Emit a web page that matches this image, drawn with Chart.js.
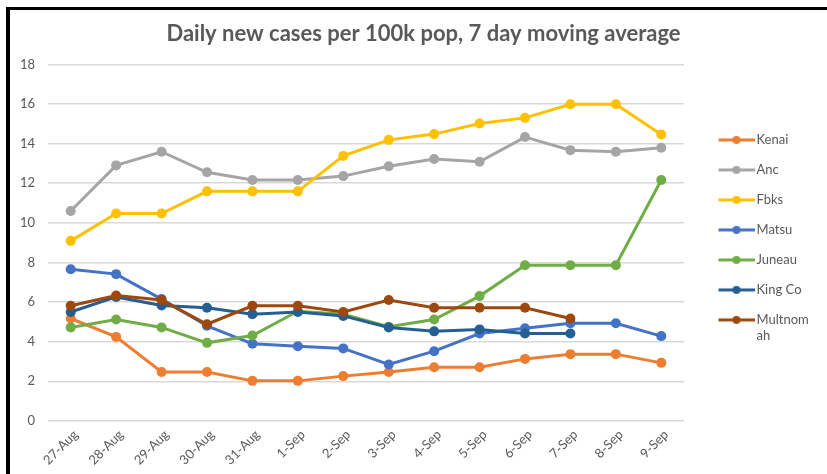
<!DOCTYPE html>
<html>
<head>
<meta charset="utf-8">
<script src="https://cdn.jsdelivr.net/npm/chart.js@4"></script>
<style>
  body { margin: 0; background: #fff; }
  #wrap { position: relative; width: 827px; height: 474px; }
  #frame {
    position: absolute; left: 6px; top: 7px; right: 0; bottom: 0;
    border-top: 3px solid #000; border-left: 4px solid #000;
    pointer-events: none;
  }
</style>
</head>
<body>
<div id="wrap">
  <canvas id="chart"></canvas>
  <div id="frame"></div>
</div>
<script>
const days = ["27-Aug", "28-Aug", "29-Aug", "30-Aug", "31-Aug", "1-Sep", "2-Sep",
  "3-Sep", "4-Sep", "5-Sep", "6-Sep", "7-Sep", "8-Sep", "9-Sep"];

const kenai = [5.17, 4.24, 2.47, 2.47, 2.02, 2.02, 2.26, 2.47, 2.71, 2.71, 3.13, 3.37, 3.37, 2.93];
const anc = [10.6, 12.9, 13.59, 12.55, 12.16, 12.16, 12.36, 12.86, 13.22, 13.08, 14.33, 13.67, 13.59, 13.79];
const fbks = [9.09, 10.47, 10.47, 11.59, 11.59, 11.59, 13.38, 14.19, 14.48, 15.02, 15.3, 15.99, 15.99, 14.46];
const matsu = [7.66, 7.41, 6.15, 4.8, 3.89, 3.77, 3.66, 2.85, 3.52, 4.41, 4.68, 4.93, 4.93, 4.28];
const juneau = [4.72, 5.12, 4.72, 3.94, 4.31, 5.54, 5.39, 4.75, 5.12, 6.3, 7.86, 7.86, 7.86, 12.16];
const kingCo = [5.5, 6.26, 5.83, 5.71, 5.39, 5.5, 5.3, 4.72, 4.52, 4.62, 4.41, 4.41];
const multnomah = [5.81, 6.33, 6.1, 4.88, 5.81, 5.81, 5.5, 6.1, 5.71, 5.71, 5.71, 5.17];

const seriesNames = ["Kenai", "Anc", "Fbks", "Matsu", "Juneau", "King Co", "Multnomah"];
const seriesValues = [kenai, anc, fbks, matsu, juneau, kingCo, multnomah];
const seriesColors = ["#ED7D31", "#A5A5A5", "#FFC000", "#4472C4", "#70AD47", "#255E91", "#9E480E"];

const yTicks = [0, 2, 4, 6, 8, 10, 12, 14, 16, 18];

// line + dot legend symbol, drawn at the right side of a wider image
function legendMark(color) {
  const c = document.createElement("canvas");
  c.width = 58;
  c.height = 10;
  const g = c.getContext("2d");
  g.strokeStyle = color;
  g.lineWidth = 3;
  g.beginPath();
  g.moveTo(22, 5);
  g.lineTo(58, 5);
  g.stroke();
  g.fillStyle = color;
  g.beginPath();
  g.arc(40, 5, 4, 0, Math.PI * 2);
  g.fill();
  return c;
}
const marks = seriesColors.map(legendMark);

// keep the legend column a fixed width so the plot ends where excel's does
const fixedLegendWidth = {
  id: "fixedLegendWidth",
  beforeLayout(chart) {
    const lg = chart.legend;
    if (lg && !lg._fixedWidth) {
      const fit = lg.fit.bind(lg);
      lg.fit = function() {
        fit();
        this.width = 143;
      };
      lg._fixedWidth = true;
    }
  }
};

const datasets = seriesNames.map((name, i) => ({
  label: name,
  data: seriesValues[i],
  borderColor: seriesColors[i],
  backgroundColor: seriesColors[i],
  borderWidth: 3,
  pointRadius: 5,
  pointBorderWidth: 0,
  tension: 0,
  fill: false,
  order: seriesNames.length - i // later series drawn on top
}));

const FONT = "Lato, 'Open Sans', sans-serif";

new Chart(document.getElementById("chart"), {
  type: "line",
  data: { labels: days, datasets: datasets },
  plugins: [fixedLegendWidth],
  options: {
    responsive: true,
    maintainAspectRatio: false,
    animation: false,
    layout: { padding: { left: 20, right: 0, top: 4, bottom: 0 } },
    plugins: {
      title: {
        display: true,
        text: "Daily new cases per 100k pop, 7 day moving average",
        color: "#595959",
        font: { family: FONT, size: 22, weight: "bold" },
        padding: { top: 17, bottom: 17 }
      },
      legend: {
        position: "right",
        labels: {
          usePointStyle: true,
          pointStyleWidth: 49,
          padding: 17,
          color: "#595959",
          font: { family: FONT, size: 13 },
          sort: (a, b) => a.datasetIndex - b.datasetIndex,
          generateLabels: chart => {
            const items = Chart.defaults.plugins.legend.labels.generateLabels(chart);
            items.forEach(item => {
              item.pointStyle = marks[item.datasetIndex];
              if (item.text === "Multnomah") item.text = ["Multnom", "ah"];
            });
            return items;
          }
        }
      },
      tooltip: { enabled: false }
    },
    scales: {
      x: {
        offset: true,
        grid: { display: false, drawTicks: false },
        border: { display: false },
        // rotated first label may hang into the y label column, like excel
        afterFit: axis => {
          axis.paddingLeft = 0;
        },
        ticks: {
          color: "#595959",
          font: { family: FONT, size: 13 },
          minRotation: 45,
          maxRotation: 45,
          autoSkip: false,
          padding: 6,
          labelOffset: 5
        }
      },
      y: {
        min: yTicks[0],
        max: yTicks[yTicks.length - 1],
        afterBuildTicks: axis => {
          axis.ticks = yTicks.map(v => ({ value: v }));
        },
        afterFit: axis => {
          axis.width = 28;
        },
        grid: { color: "#D9D9D9", lineWidth: 1.5, drawTicks: false },
        border: { display: false },
        ticks: {
          color: "#595959",
          font: { family: FONT, size: 13 },
          padding: 13
        }
      }
    }
  }
});
</script>
</body>
</html>
